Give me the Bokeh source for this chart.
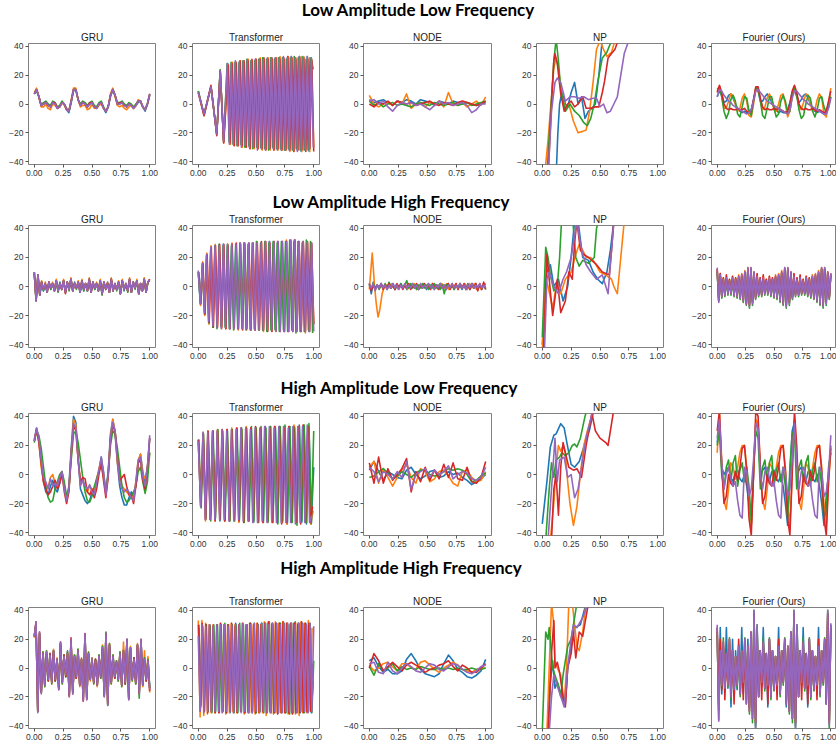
import numpy as np
from bokeh.plotting import figure
from bokeh.models import Range1d, FixedTicker, Div
from bokeh.layouts import column, row
from bokeh.embed import file_html
from bokeh.resources import INLINE

COLORS = ["#1f77b4", "#ff7f0e", "#2ca02c", "#d62728", "#9467bd"]
ROW_TITLES = ["Low Amplitude Low Frequency", "Low Amplitude High Frequency",
              "High Amplitude Low Frequency", "High Amplitude High Frequency"]
MODELS = ["GRU", "Transformer", "NODE", "NP", "Fourier (Ours)"]
X_TICKS = [0, 0.25, 0.5, 0.75, 1]
X_TICK_LABELS = ["0.00", "0.25", "0.50", "0.75", "1.00"]
Y_TICKS = [-40, -20, 0, 20, 40]
Y_TICK_LABELS = ["\u221240", "\u221220", "0", "20", "40"]

# ---------------- Row 1 : Low Amplitude Low Frequency ----------------
GRU_LALF = [
    [7,9,5,-1,0,1,-1,-2,0,0,-3,-2,1,0,-4,-6,1,9,10,3,-1,1,0,-2,0,0,-2,-3,0,1,-3,-6,-2,5,10,6,0,0,1,-1,-2,0,-1,-3,-1,1,2,-2,-5,0,6],
    [8,11,5,-2,-2,0,-3,-4,0,-1,-3,-2,1,-1,-4,-5,3,11,11,3,-2,-1,-1,-4,-3,0,-3,-3,-1,0,-3,-5,-2,7,11,5,-1,-2,-1,-3,-4,-2,-1,-3,-1,3,2,-2,-4,0,6],
    [7,10,5,-1,1,2,0,-1,2,1,-2,-1,2,0,-3,-5,2,10,10,3,0,2,1,-1,1,2,-1,-2,1,2,-2,-5,-2,6,10,6,1,1,2,0,-1,1,0,-2,0,2,2,-2,-4,0,7],
    [7,10,5,-1,0,1,-1,-2,1,1,-3,-2,1,0,-4,-5,2,10,10,3,-1,1,0,-2,1,1,-2,-3,0,1,-3,-5,-2,6,10,6,0,1,1,-1,-2,0,-1,-3,-1,2,2,-2,-4,0,7],
    [7,10,5,-1,0,1,-1,-2,1,0,-3,-2,1,0,-4,-5,2,10,10,3,-1,1,0,-2,0,1,-2,-3,0,1,-3,-5,-2,6,10,6,0,0,1,-1,-2,0,-1,-3,-1,2,2,-2,-4,0,7],
]
TR_LALF_HEAD_X = [0.0, 0.05, 0.11, 0.16, 0.19, 0.22]
TR_LALF_HEAD = [[9,-8,12,-21,23,-26],[8,-8,12,-20,22,-27],[9,-7,12,-21,24,-26],[8,-8,13,-22,23,-27],[8,-7,12,-21,23,-26]]
TR_LALF_TAIL = [
    [28,-27,28,-28,29,-28,29,-29,30,-29,30,-30,30,-30,31,-30,31,-31,31,-31,31,-31,32,-31,32,-31,32,-32,32,-32,32,-32,33,-32,32,-32,33,-33,32,-32,33,-33,32,24],
    [27,-28,29,-29,28,-29,30,-30,29,-30,31,-31,30,-31,31,-31,32,-32,31,-31,32,-32,31,-32,32,-32,33,-32,31,-32,33,-33,32,-33,32,-32,33,-33,33,-32,32,-33,31,-30],
    [28,-26,29,-28,29,-29,29,-28,30,-30,31,-29,30,-31,30,-30,31,-30,32,-31,31,-32,32,-30,31,-31,32,-31,32,-32,31,-31,32,-32,33,-31,32,-32,33,-32,31,-32,32,2],
    [27,-27,28,-29,29,-29,30,-29,30,-30,30,-31,31,-30,31,-31,31,-31,32,-32,31,-31,32,-32,32,-31,31,-32,32,-32,33,-32,32,-33,31,-32,32,-32,32,-33,31,-31,30,-33],
    [28,-28,28,-28,30,-29,29,-30,30,-29,31,-30,30,-30,31,-32,31,-31,31,-32,32,-31,32,-31,32,-32,32,-32,33,-32,32,-32,33,-32,32,-33,33,-32,32,-32,33,-31,32,-30],
]
TR_LALF_SPAN = [(0.255, 0.995), (0.262, 1.0), (0.25, 0.985), (0.258, 1.0), (0.252, 0.997)]
NODE_LALF = [
    [3,1,2,3,1,-1,2,1,3,2,0,3,2,1,-1,2,1,0,2,1,0,1,0,-1,0,1],
    [6,0,-2,0,1,-1,2,0,7,-3,0,1,-2,1,0,2,-2,8,0,-1,1,-2,0,2,-1,5],
    [2,-1,1,-2,0,1,-1,0,-1,-2,0,1,0,-1,1,0,-1,0,1,-1,0,1,-1,0,1,2],
    [0,-2,1,0,2,-1,2,1,0,1,-1,0,1,2,0,-1,1,0,-1,1,2,1,0,-1,0,2],
    [2,3,0,2,-2,-5,-1,1,0,1,-1,0,-2,-4,-1,2,0,1,-1,0,1,-1,-6,-4,0,0],
]
NP_LALF_X = [
    [0.12,0.135,0.15,0.17,0.2,0.22,0.25,0.28,0.31,0.34,0.37,0.4,0.43,0.46,0.49,0.52],
    [0.02,0.05,0.08,0.1,0.12,0.14,0.17,0.2,0.23,0.27,0.31,0.35,0.38,0.41,0.44,0.47,0.5,0.53,0.56,0.6,0.63],
    [0.04,0.07,0.1,0.12,0.14,0.16,0.2,0.24,0.28,0.32,0.36,0.39,0.42,0.45,0.48,0.52,0.56,0.6],
    [0.05,0.08,0.1,0.11,0.13,0.16,0.19,0.22,0.25,0.28,0.31,0.35,0.38,0.42,0.46,0.49,0.52,0.54,0.57,0.6,0.63,0.66],
    [0.05,0.08,0.11,0.13,0.16,0.2,0.24,0.28,0.32,0.36,0.4,0.44,0.47,0.5,0.53,0.56,0.59,0.62,0.65,0.68,0.71,0.74,0.76],
]
NP_LALF_Y = [
    [-50,-20,0,8,0,-2,8,15,0,5,-10,-5,-3,0,20,45],
    [-50,-25,5,25,32,25,5,-2,0,-12,-20,-19,-18,-5,15,38,44,38,33,36,44],
    [-50,-10,30,45,30,10,-5,0,-5,-8,-13,-15,-10,0,15,32,36,44],
    [-50,0,30,35,28,7,-5,0,2,-2,0,5,-3,-3,-2,-2,8,16,32,35,38,45],
    [-50,-5,15,18,15,2,5,5,4,5,3,4,4,-2,0,-6,-5,0,5,20,35,42,45],
]
FOU_LALF = [
    [5,9,6,1,2,6,7,4,0,-3,-5,-6,-5,-6,-5,-4,3,10,9,2,2,5,7,5,1,-2,-4,-6,-5,-6,-6,-4,1,8,10,5,1,3,6,7,4,0,-3,-5,-6,-5,-6,-7,-5,0,5],
    [9,12,6,-3,-3,2,7,6,0,-5,-3,4,7,2,-8,-9,0,11,11,3,-4,-2,4,7,3,-4,-5,0,6,7,0,-9,-5,6,12,7,-2,-4,1,7,6,0,-5,-4,3,7,4,-7,-9,1,11],
    [10,12,5,-5,-10,-6,3,6,2,-7,-9,-2,5,4,-5,-8,2,11,11,2,-8,-10,-3,5,5,-3,-9,-7,2,6,2,-6,-5,6,12,6,-4,-10,-8,0,6,4,-5,-9,-4,4,5,-2,-6,-2,5],
    [8,13,8,0,-3,-4,-3,-4,-4,-3,-4,-4,-3,-5,-6,-5,3,12,12,4,-2,-4,-3,-4,-4,-3,-4,-3,-4,-5,-6,-5,0,9,13,8,0,-3,-4,-3,-4,-4,-3,-4,-5,-4,-5,-6,-5,2,9],
    [5,10,9,6,4,2,1,-1,-2,-3,-4,-5,-6,-7,-6,-4,2,9,10,8,6,4,2,1,0,-1,-2,-3,-4,-5,-6,-7,-4,4,9,9,7,5,3,2,0,-1,-2,-3,-4,-5,-6,-7,-7,-3,4],
]

# ---------------- Row 2 : Low Amplitude High Frequency ----------------
GRU_LAHF = [
    [9,-9,7,-5,3,-3,2,-4,3,-2,2,-3,4,-3,3,-2,4,-4,3,-2,5,-3,3,-1,3,-4,4,-3,2,-3,5,-4,3,-2,2,-3,4,-5,3,-2,3,-4,5,-3,2,-2,3,-5,4,-3,2,-3,5,-4,3,-1,4,-5,2,-3,5,-4,3,4],
    [10,-9,8,-6,4,-2,3,-4,3,-1,3,-3,5,-3,2,-2,5,-4,3,-2,6,-3,2,-1,4,-4,5,-2,2,-3,6,-4,3,-1,3,-3,5,-5,3,-2,3,-4,6,-3,2,-2,4,-5,5,-2,2,-3,6,-4,3,-1,5,-5,2,-3,6,-4,3,5],
    [9,-10,8,-6,3,-3,2,-4,3,-2,2,-3,4,-4,2,-2,4,-4,3,-3,5,-3,2,-2,3,-4,4,-3,2,-3,5,-4,3,-2,2,-3,4,-6,3,-2,2,-4,5,-3,2,-3,3,-5,4,-2,2,-4,5,-4,3,-2,4,-5,2,-3,5,-4,3,4],
    [10,-10,8,-6,3,-2,2,-4,3,-1,2,-3,4,-3,2,-2,4,-5,3,-2,5,-3,2,-1,3,-4,4,-2,2,-3,5,-4,3,-1,2,-3,4,-5,3,-2,2,-4,5,-3,2,-2,3,-5,4,-2,2,-3,5,-4,3,-1,4,-5,2,-3,5,-4,3,5],
    [10,-10,8,-6,3,-2,2,-4,3,-1,2,-3,4,-3,2,-2,4,-4,3,-2,5,-3,2,-1,3,-4,4,-2,2,-3,5,-4,3,-1,2,-3,4,-5,3,-2,2,-4,5,-3,2,-2,3,-5,4,-2,2,-3,5,-4,3,-1,4,-5,2,-3,5,-4,3,5],
]
TR_LAHF = [
    [10,-12,16,-18,22,-24,27,-27,28,-28,28,-28,29,-28,28,-29,29,-29,29,-28,29,-29,30,-29,29,-29,30,-30,30,-29,30,-30,30,-30,31,-30,30,-30,31,-30,31,-31,31,-30,31,-30,32,-31,31,-31,31,-30,31,-31,30,-30],
    [9,-13,17,-20,23,-26,28,-28,29,-27,28,-29,28,-29,29,-28,30,-29,29,-30,30,-29,29,-30,30,-30,29,-30,31,-30,30,-31,31,-30,30,-31,31,-31,30,-30,31,-31,32,-31,31,-31,32,-31,30,-31,31,-32,31,-30,29,-26],
    [10,-11,15,-19,21,-25,26,-28,28,-29,29,-27,28,-28,29,-29,28,-30,29,-29,30,-28,30,-30,29,-30,30,-29,31,-30,30,-30,31,-31,30,-30,31,-30,30,-31,31,-30,31,-31,32,-30,31,-32,31,-31,30,-31,32,-30,31,-32],
    [10,-12,16,-19,22,-25,27,-28,28,-28,29,-28,29,-29,28,-29,29,-28,30,-29,29,-30,30,-29,30,-30,30,-30,30,-30,31,-30,31,-31,30,-31,31,-30,31,-31,31,-31,31,-31,32,-31,32,-30,31,-31,31,-31,30,-31,30,-26],
    [11,-12,16,-18,22,-24,27,-27,28,-28,28,-29,29,-28,29,-29,29,-29,29,-29,30,-29,30,-29,30,-30,30,-30,30,-30,30,-30,31,-30,31,-30,31,-31,31,-31,31,-31,31,-31,32,-31,32,-31,31,-31,31,-31,31,-31,30,-31],
]
TR_LAHF_SPAN = [(0.0, 0.995), (0.002, 1.0), (0.0, 0.99), (0.004, 1.0), (0.0, 1.0)]
NODE_LAHF_B = [2,-5,3,-2,1,-1,2,-1,1,-2,1,-1,2,-2,1,0,2,-1,1,-2,1,-1,2,-1,1,-2,1,-1,1,-2,2,-1,1,-2,1,-1,2,-1,1,-2,1,-1,2,-2,1,-1,1,-2,1,-1,2,-2,1,-1,2,-1,1,-2,1,2]
NODE_LAHF_O_HEAD_X = [0.0, 0.012, 0.025, 0.035, 0.045, 0.06, 0.075, 0.09, 0.11, 0.13]
NODE_LAHF_O_HEAD_Y = [-2, 10, 23, 12, 0, -12, -21, -16, -5, 0]
NODE_LAHF_O_TAIL = [1,-1,2,-1,1,-2,1,-1,2,-2,1,-1,2,-2,1,-1,2,-1,1,-2,2,-1,1,-2,2,-1,2,-2,1,-1,2,-2,1,-1,2,-2,2,-1,2,-2,1,-2,2,-1]
NODE_LAHF_G = [1,-2,2,-1,1,-2,1,-1,2,-1,3,-1,1,-2,1,-1,2,-1,1,4,-1,2,-1,1,-2,1,-1,2,-1,1,-2,1,-1,2,-1,1,-2,1,-5,1,2,-1,1,-2,1,-1,2,-1,1,-2,1,-1,2,-1,1,-2,1,-1,1,-2]
NODE_LAHF_R = [2,-3,1,-2,1,-1,2,-2,1,-1,2,-1,1,-2,2,-1,1,-2,1,-1,2,-2,1,-1,2,-2,1,-1,2,-1,1,-2,2,-1,1,-2,2,-1,1,-2,2,-2,1,-1,2,-2,2,-1,2,-2,1,-2,2,-1,2,-3,2,-2,3,-2]
NODE_LAHF_P = [1,-1,2,-3,1,-1,2,-1,1,-2,1,-1,2,-1,1,-2,1,-1,2,-1,1,-1,2,-1,1,-2,2,-1,1,-1,2,-1,1,-2,1,-1,2,-1,1,-2,1,-1,2,-1,1,-1,2,-1,1,-2,1,-1,2,-1,1,-1,2,-1,1,-1]
NP_LAHF_X = [
    [0.0,0.04,0.07,0.1,0.14,0.18,0.22,0.25,0.28,0.31,0.35,0.4,0.44,0.48,0.52,0.56,0.59,0.62],
    [0.0,0.03,0.05,0.09,0.12,0.16,0.2,0.25,0.29,0.32,0.35,0.38,0.42,0.45,0.5,0.55,0.6,0.62,0.65,0.68,0.71],
    [0.0,0.03,0.05,0.07,0.1,0.13,0.15,0.17,0.26,0.29,0.32,0.35,0.4,0.45,0.47,0.5],
    [0.01,0.04,0.06,0.09,0.11,0.13,0.16,0.2,0.23,0.26,0.28,0.3,0.33,0.36,0.4,0.47,0.52,0.58,0.6,0.62],
    [0.02,0.04,0.06,0.1,0.14,0.18,0.21,0.25,0.28,0.3,0.33,0.35,0.38,0.42,0.47,0.52,0.57,0.6,0.62],
]
NP_LAHF_Y = [
    [-40,10,15,0,5,-10,0,20,45,45,20,18,10,5,2,10,25,45],
    [-45,5,0,-15,0,-5,5,10,22,29,25,20,20,17,10,8,5,0,-5,20,45],
    [-35,27,20,8,-3,0,20,50,50,20,14,18,16,20,40,50],
    [-45,22,5,-20,-8,5,-18,-10,10,5,30,45,25,22,20,15,10,8,25,45],
    [-42,5,10,0,-5,5,10,20,35,45,30,22,15,10,5,8,-5,25,45],
]
FOU_LAHF = [
    [10,-8,7,-6,5,-5,5,-4,4,-4,5,-5,5,-6,6,-7,7,-9,9,-11,12,-12,12,-10,9,-7,6,-5,5,-5,5,-4,4,-4,5,-5,5,-6,6,-7,7,-9,9,-11,12,-12,12,-10,9,-7,6,-5,5,-5,5,-4,4,-4,5,-5,5,-6,6,-7,7,-9,9,-11,12,-12,12,-10,9,-7,8],
    [12,-9,9,-6,6,-5,7,-4,5,-4,7,-5,6,-6,8,-7,9,-9,11,-11,13,-13,13,-11,10,-7,8,-5,6,-5,7,-4,5,-4,7,-5,6,-6,8,-7,9,-9,11,-11,13,-13,13,-11,10,-7,8,-5,6,-5,7,-4,5,-4,7,-5,6,-6,8,-7,9,-9,11,-11,13,-13,13,-11,10,-7,9],
    [11,-10,7,-8,5,-7,5,-6,4,-6,5,-7,5,-8,6,-9,7,-11,9,-13,12,-15,12,-13,9,-9,6,-7,5,-7,5,-6,4,-6,5,-7,5,-8,6,-9,7,-11,9,-13,12,-15,12,-13,9,-9,6,-7,5,-7,5,-6,4,-6,5,-7,5,-8,6,-9,7,-11,9,-13,12,-15,12,-13,9,-9,8],
    [12,-10,9,-7,6,-6,8,-5,5,-5,7,-6,6,-7,7,-8,8,-10,10,-12,12,-13,12,-11,10,-8,9,-6,6,-6,8,-5,5,-5,7,-6,6,-7,7,-8,8,-10,10,-12,12,-13,12,-11,10,-8,9,-6,6,-6,8,-5,5,-5,7,-6,6,-7,7,-8,8,-10,10,-12,12,-13,12,-11,10,-8,9],
    [13,-11,8,-7,5,-6,6,-5,4,-5,6,-6,5,-7,7,-8,8,-10,10,-12,13,-14,13,-12,10,-8,7,-6,5,-6,6,-5,4,-5,6,-6,5,-7,7,-8,8,-10,10,-12,13,-14,13,-12,10,-8,7,-6,5,-6,6,-5,4,-5,6,-6,5,-7,7,-8,8,-10,10,-12,13,-14,13,-12,10,-8,9],
]

# ---------------- Row 3 : High Amplitude Low Frequency ----------------
GRU_HALF = [
    [24,32,24,8,-5,-12,-14,-8,-4,-10,-12,-6,0,-8,-16,-8,18,40,36,12,-10,-14,-18,-20,-18,-12,-10,-4,2,12,2,-12,2,28,38,28,8,-8,-16,-21,-21,-16,-12,-14,-8,8,14,2,-6,5,25],
    [23,31,22,5,-5,-7,-9,-2,0,-6,-9,-3,2,-8,-17,-10,15,38,34,10,-5,-4,-10,-12,-8,-10,-12,-3,4,10,0,-12,0,26,38,30,8,-2,-8,-10,-12,-14,-14,-15,-5,10,14,0,-3,5,15],
    [22,30,27,18,5,-8,-16,-19,-18,-10,-5,0,2,-5,-15,-10,10,28,30,22,10,-2,-12,-18,-19,-15,-8,-3,2,8,-2,-12,0,20,30,28,18,5,-8,-16,-19,-18,-15,-12,-8,2,5,-5,-13,-5,15],
    [23,31,22,8,-5,-10,-14,-12,-8,-4,-10,-6,1,-12,-20,-12,14,34,30,10,-5,-2,-3,-12,-14,-10,-16,-10,0,8,-4,-16,-2,24,34,30,12,-4,-2,0,-8,-14,-14,-20,-8,8,10,-4,-10,4,25],
    [23,32,25,10,-2,-5,-10,-3,-8,-6,-8,-2,2,-10,-18,-10,15,35,32,10,-8,-4,-8,-10,-7,-12,-14,-5,3,12,0,-14,0,25,36,30,10,-5,-10,-12,-10,-12,-16,-18,-5,10,12,-2,-8,5,27],
]
TR_HALF = [
    [24,-22,28,-31,29,-31,30,-31,30,-32,30,-31,31,-32,31,-31,31,-32,32,-32,31,-32,32,-33,32,-32,32,-33,32,-33,33,-32,33,-33,32,-33,33,-34,33,-32,33,-33,34,-33,33,-34,33,-33,5],
    [23,-21,29,-32,30,-31,29,-32,31,-31,30,-32,31,-31,32,-32,31,-33,32,-32,33,-32,32,-33,31,-33,32,-32,33,-33,32,-33,33,-32,33,-33,32,-34,33,-33,34,-32,33,-33,34,-33,32,-34,-25],
    [24,-23,28,-30,29,-32,30,-30,31,-31,30,-32,30,-32,31,-32,32,-31,31,-33,32,-32,33,-32,32,-33,33,-33,32,-32,33,-33,32,-34,33,-32,34,-33,33,-33,32,-35,33,-32,34,-33,35,-34,30],
    [24,-22,28,-31,30,-31,30,-32,30,-31,31,-32,31,-32,31,-31,32,-32,32,-33,32,-32,32,-32,33,-33,32,-33,33,-32,32,-33,33,-33,33,-34,32,-33,33,-33,33,-33,33,-34,34,-33,33,-33,-22],
    [23,-22,29,-31,29,-31,30,-31,30,-31,31,-31,30,-32,31,-32,31,-31,32,-32,32,-32,31,-33,32,-33,32,-32,33,-33,33,-32,32,-33,33,-33,33,-33,32,-33,33,-34,33,-33,33,-33,34,-33,-28],
]
TR_HALF_SPAN = [(0.0, 1.0), (0.0, 0.995), (0.004, 1.0), (0.002, 0.99), (0.0, 0.985)]
NODE_HALF = [
    [3,9,2,-4,2,0,-2,-3,3,5,0,-3,-1,2,3,-2,-1,2,0,1,-2,-4,-7,-5,-3,0],
    [5,9,-6,4,-2,-8,-2,3,7,-2,-6,4,2,-5,-3,2,3,-1,-6,-8,2,3,-2,-5,-4,2],
    [-2,-1,2,4,1,-3,-1,2,0,-2,1,3,3,0,-1,0,2,4,3,4,3,0,-5,-4,-1,1],
    [8,-6,12,-6,4,-4,0,4,11,-12,2,-5,5,-4,3,-3,7,-2,8,-3,-4,5,-5,-6,-2,9],
    [5,2,-5,2,0,-3,2,-2,9,-10,0,2,4,-2,3,0,2,6,-3,0,2,1,-3,-4,-2,5],
]
NP_HALF_X = [
    [0.0,0.04,0.07,0.1,0.12,0.16,0.19,0.22,0.25,0.28,0.32,0.36,0.41,0.44,0.46],
    [0.07,0.1,0.12,0.14,0.16,0.18,0.2,0.22,0.24,0.27,0.3,0.33,0.36,0.39,0.42,0.45],
    [0.03,0.06,0.08,0.1,0.12,0.15,0.17,0.2,0.23,0.26,0.28,0.3,0.33,0.37,0.4],
    [0.08,0.1,0.12,0.14,0.16,0.18,0.2,0.23,0.27,0.3,0.34,0.38,0.41,0.43,0.46,0.5,0.55,0.57,0.59,0.62],
    [0.05,0.08,0.11,0.13,0.15,0.19,0.22,0.25,0.28,0.31,0.34,0.38,0.41,0.43,0.45],
]
NP_HALF_Y = [
    [-34,-5,19,27,28,35,32,19,7,5,9,19,31,42,48],
    [-45,-20,5,20,16,20,15,-5,-20,-35,-22,0,20,30,38,48],
    [-45,-10,8,-2,10,12,15,13,15,20,21,19,25,40,48],
    [-45,-10,0,-28,5,22,15,5,3,4,-2,20,33,42,30,25,22,20,30,45],
    [-45,-10,25,-5,10,12,-2,0,-16,-10,5,25,35,42,48],
]
FOU_HALF = [
    [22,35,5,0,3,5,-2,-5,2,3,-3,-5,0,-8,-20,-35,0,36,32,0,3,5,-2,-5,2,3,-3,-5,0,-8,-20,-35,0,30,36,5,3,5,-2,-5,2,3,-3,-5,0,-8,-20,-35,-15,0,18],
    [15,42,10,-18,-24,-10,8,5,-3,5,15,20,20,5,-20,-35,0,38,35,5,-18,-24,-10,8,5,-3,5,15,20,20,5,-20,-35,0,38,10,-18,-24,-10,8,5,-3,5,15,20,20,5,-20,-35,-5,15],
    [20,30,0,-10,5,10,-5,8,13,-8,3,8,-5,5,-8,-32,5,30,25,-10,5,10,-5,8,13,-8,3,8,-5,5,-8,-30,5,28,30,-10,5,10,-5,8,13,-8,3,8,-5,5,-8,-30,-25,5,15],
    [30,44,5,-20,-15,0,-6,-8,2,-4,5,18,20,2,-30,-42,0,44,40,5,-20,-15,0,-6,-8,2,-4,5,18,20,2,-30,-42,0,44,20,-20,-15,0,-6,-8,2,-4,5,18,20,2,-30,-42,-5,20],
    [25,38,8,-10,0,5,-3,-8,-5,-18,-28,-30,5,2,-15,-10,10,35,32,0,-10,2,5,-3,-8,-5,-18,-28,-30,5,2,-15,-10,10,35,8,-10,2,5,-3,-8,-5,-18,-28,-30,5,2,-15,-12,0,27],
]

# ---------------- Row 4 : High Amplitude High Frequency ----------------
GRU_HAHF = [
    [22,31,-30,24,-17,11,-12,10,-8,10,-10,12,-9,6,-14,17,-10,9,-6,12,-19,19,-17,9,-7,13,-11,6,-22,23,-21,10,-8,7,-10,6,-12,9,-7,15,-19,23,-25,16,-10,9,-7,5,-9,11,-12,13,-11,19,-21,14,-8,7,-11,16,-17,19,-12,7,-9,6,-14],
    [21,31,-30,24,-17,11,-13,12,-9,10,-11,13,-9,7,-14,17,-11,9,-6,11,-19,19,-17,9,-7,13,-13,7,-22,23,-21,11,-9,7,-11,6,-13,9,-7,16,-19,23,-25,17,-11,9,-7,5,-9,11,-13,18,-11,19,-21,15,-9,7,-11,17,-17,19,-13,12,-9,8,-17],
    [22,31,-30,24,-17,11,-13,12,-9,10,-11,12,-9,6,-14,17,-11,9,-6,11,-19,19,-17,9,-7,13,-12,6,-22,23,-21,11,-8,6,-11,6,-12,9,-7,15,-19,25,-26,17,-11,9,-7,5,-9,11,-13,12,-11,20,-21,14,-9,7,-11,16,-21,19,-12,7,-9,6,-14],
    [22,32,-30,25,-17,10,-12,11,-9,10,-10,12,-9,6,-15,18,-10,9,-6,10,-20,21,-18,8,-7,12,-12,6,-23,24,-22,10,-8,6,-10,6,-12,8,-6,14,-20,24,-25,16,-10,8,-7,4,-8,10,-12,12,-11,20,-22,14,-8,7,-10,16,-18,20,-12,6,-9,5,-16],
    [22,32,-31,25,-18,10,-12,11,-8,9,-10,12,-8,6,-15,18,-10,8,-5,10,-20,20,-18,8,-6,12,-12,6,-23,24,-22,10,-8,6,-10,5,-12,8,-6,14,-20,24,-26,16,-10,8,-6,4,-8,10,-12,12,-10,20,-22,14,-8,6,-10,16,-18,20,-12,6,-8,5,-15],
]
TR_HAHF = [
    [30,-26,30,-30,30,-29,30,-30,29,-31,30,-30,30,-30,30,-31,29,-31,30,-30,31,-30,30,-30,30,-31,30,-30,31,-31,30,-31,30,-30,31,-31,30,-31,31,-30,31,-31,30,-31,31,-31,30,-31,31,-30,31,-31,31,-30,31,-31,30,-30,31,-30,30,-31,-9],
    [33,-34,33,-33,31,-32,30,-31,30,-31,30,-30,31,-31,30,-32,30,-31,31,-30,30,-31,29,-30,31,-32,30,-30,31,-31,30,-32,31,-31,30,-31,32,-33,31,-30,30,-32,32,-31,31,-31,32,-31,31,-32,30,-31,31,-32,31,-33,32,-31,31,-30,33,-30,28],
    [28,-27,29,-30,30,-30,29,-31,30,-30,30,-31,30,-30,31,-31,30,-30,30,-31,30,-31,31,-30,30,-31,30,-31,31,-30,31,-31,30,-30,31,-31,31,-30,32,-31,30,-31,31,-31,31,-30,31,-31,30,-32,31,-31,32,-31,31,-30,31,-31,30,-30,31,-31,5],
    [30,-30,31,-30,30,-31,30,-30,29,-31,30,-31,31,-30,30,-31,30,-30,31,-31,29,-31,30,-30,31,-31,30,-31,31,-30,30,-31,31,-31,30,-30,31,-31,32,-31,31,-31,31,-32,31,-31,32,-31,31,-31,31,-32,31,-31,30,-31,32,-31,31,-31,31,-30,3],
    [22,-30,30,-31,29,-30,30,-30,29,-30,30,-30,30,-31,30,-30,29,-30,30,-31,30,-30,30,-31,31,-30,30,-31,30,-31,31,-30,30,-31,31,-30,31,-31,30,-31,31,-30,31,-31,30,-31,31,-30,31,-30,31,-31,30,-31,31,-30,31,-30,30,-31,31,-30,29],
]
TR_HAHF_SPAN = [(0.004, 0.995), (0.0, 0.985), (0.006, 1.0), (0.002, 0.99), (0.0, 1.0)]
NODE_HAHF = [
    [5,7,1,-3,-1,-4,-4,-2,6,10,5,-1,-4,-5,-6,-4,3,9,5,-1,-3,-6,-7,-5,-2,6],
    [2,-2,0,3,4,1,-2,3,3,0,-1,4,5,2,-1,-3,0,2,4,2,-1,-2,-3,-1,0,0],
    [1,-5,3,-2,0,3,-2,1,-1,0,-1,1,0,-1,-1,0,-1,0,-1,0,-1,-1,0,-1,-1,0],
    [0,10,5,-2,1,4,1,-2,2,4,2,0,-3,-1,0,2,3,5,1,-2,2,0,-3,-3,0,3],
    [3,4,-3,-4,4,-2,-4,0,3,1,-2,-3,0,3,2,-1,-2,1,3,2,-1,-3,-4,-2,1,2],
]
NP_HAHF_X = [
    [0.05,0.07,0.09,0.11,0.13,0.17,0.2,0.22,0.25,0.28,0.33,0.38],
    [0.04,0.06,0.08,0.1,0.11,0.13,0.16,0.19,0.21,0.23,0.26,0.28,0.3,0.32,0.35,0.38],
    [0.0,0.03,0.05,0.06,0.09,0.11,0.14,0.16,0.18,0.22,0.25,0.28,0.3],
    [0.05,0.08,0.1,0.11,0.13,0.15,0.18,0.2,0.22,0.25,0.27,0.29,0.32,0.35,0.4],
    [0.06,0.08,0.1,0.14,0.17,0.19,0.22,0.25,0.27,0.3,0.35,0.4],
]
NP_HAHF_Y = [
    [-45,-10,5,-14,-10,-20,-25,0,15,28,30,45],
    [-45,0,45,30,5,0,-5,-25,0,45,45,30,15,12,25,45],
    [-45,25,20,28,0,-5,-12,-20,-5,15,20,35,45],
    [-45,10,33,0,4,-3,-20,-27,0,10,25,7,25,22,45],
    [-45,-20,-5,-15,-22,-27,0,20,30,28,35,45],
]
FOU_HAHF = [
    [28,-36,28,-18,14,-12,28,-14,10,-27,20,-18,12,-15,8,-12,28,-18,12,-10,20,-27,15,-30,38,-40,28,-18,12,-12,28,-14,10,-27,20,-20,12,-15,8,-12,28,-18,12,-10,20,-27,15,-30,25,-35,38,-40,28,-18,12,-10,28,-14,10,-27,20,-20,12,-15,8,-12,28,-18,12,-10,20,-25,38,-36,30],
    [25,-30,10,-12,15,-14,10,-12,18,-18,12,-15,8,-12,15,-18,12,-10,18,-22,15,-28,22,-32,36,-38,25,-20,12,-10,15,-14,10,-12,18,-18,12,-15,8,-12,15,-18,12,-10,18,-22,15,-28,22,-32,36,-38,25,-20,12,-10,15,-14,10,-12,18,-18,12,-15,8,-12,15,-18,12,-10,18,-22,36,-36,26],
    [25,-30,12,-14,21,-16,10,-13,21,-22,12,-16,8,-14,16,-20,12,-12,21,-24,15,-32,25,-38,40,-43,30,-20,12,-12,21,-16,10,-13,21,-22,12,-16,8,-14,16,-20,12,-12,21,-24,15,-32,25,-38,40,-43,30,-20,12,-12,21,-16,10,-13,21,-22,12,-16,8,-14,16,-20,12,-12,21,-24,40,-42,30],
    [28,-25,20,-15,18,-22,10,-12,20,-20,12,-25,8,-12,20,-18,12,-22,20,-25,15,-30,25,-35,38,-38,20,-20,12,-22,18,-14,10,-25,20,-20,12,-15,8,-22,20,-18,12,-10,20,-25,15,-30,25,-35,38,-38,20,-20,12,-22,18,-14,10,-25,20,-20,12,-15,8,-22,20,-18,12,-10,20,-25,38,-38,28],
    [30,-37,12,-12,18,-14,10,-12,20,-20,12,-15,8,-12,15,-18,12,-10,20,-25,15,-30,25,-35,40,-42,30,-20,12,-10,18,-14,10,-12,20,-20,12,-15,8,-12,15,-18,12,-10,20,-25,15,-30,25,-35,40,-42,30,-20,12,-10,18,-14,10,-12,20,-20,12,-15,8,-12,15,-18,12,-10,20,-25,40,-40,31],
]


def even(y, x0=0.0, x1=1.0):
    return list(np.linspace(x0, x1, len(y))), list(y)


def trans_head(head_x, head_y, tail_y, span):
    x = list(head_x) + list(np.linspace(span[0], span[1], len(tail_y)))
    return x, list(head_y) + list(tail_y)


PANELS = [
    [
        [even(y) for y in GRU_LALF],
        [trans_head(TR_LALF_HEAD_X, h, t, s) for h, t, s in zip(TR_LALF_HEAD, TR_LALF_TAIL, TR_LALF_SPAN)],
        [even(y) for y in NODE_LALF],
        [(x, y) for x, y in zip(NP_LALF_X, NP_LALF_Y)],
        [even(y) for y in FOU_LALF],
    ],
    [
        [even(y) for y in GRU_LAHF],
        [even(y, s[0], s[1]) for y, s in zip(TR_LAHF, TR_LAHF_SPAN)],
        [even(NODE_LAHF_B),
         trans_head(NODE_LAHF_O_HEAD_X, NODE_LAHF_O_HEAD_Y, NODE_LAHF_O_TAIL, (0.15, 1.0)),
         even(NODE_LAHF_G), even(NODE_LAHF_R), even(NODE_LAHF_P)],
        [(x, y) for x, y in zip(NP_LAHF_X, NP_LAHF_Y)],
        [even(y) for y in FOU_LAHF],
    ],
    [
        [even(y) for y in GRU_HALF],
        [even(y, s[0], s[1]) for y, s in zip(TR_HALF, TR_HALF_SPAN)],
        [even(y) for y in NODE_HALF],
        [(x, y) for x, y in zip(NP_HALF_X, NP_HALF_Y)],
        [even(y) for y in FOU_HALF],
    ],
    [
        [even(y) for y in GRU_HAHF],
        [even(y, s[0], s[1]) for y, s in zip(TR_HAHF, TR_HAHF_SPAN)],
        [even(y) for y in NODE_HAHF],
        [(x, y) for x, y in zip(NP_HAHF_X, NP_HAHF_Y)],
        [even(y) for y in FOU_HAHF],
    ],
]

# layout geometry (left border, frame width, right border) per column
GEOM_COLS = [(28, 127, 15), (22, 127, 21), (23, 128, 21), (24, 127, 23), (25, 125, 0)]
# (top border, frame height, bottom border) per row
GEOM_ROWS = [(23, 121, 30), (15, 122, 33), (17, 122, 25), (31, 122, 13)]
DIV_H = [20, 16, 16, 16]
DIV_W = [836, 782, 798, 802]

TICK_FONT = "Liberation Sans"


def make_panel(title, series, c, r):
    lb, fw, rb = GEOM_COLS[c]
    tb, fh, bb = GEOM_ROWS[r]
    p = figure(width=lb + fw + rb, height=tb + fh + bb,
               x_range=Range1d(-0.05, 1.05), y_range=Range1d(-42, 42),
               output_backend="svg", toolbar_location=None,
               min_border_left=lb, min_border_right=rb,
               min_border_top=tb, min_border_bottom=bb, title=title)
    p.title.align = "center"
    p.title.text_font = TICK_FONT
    p.title.text_font_size = "10px"
    p.title.text_font_style = "normal"
    p.title.text_color = "#222222"
    p.title.standoff = 2
    p.grid.grid_line_color = None
    p.outline_line_color = "#808080"
    p.outline_line_width = 1
    p.background_fill_color = "white"
    p.border_fill_color = "white"
    p.xaxis.ticker = FixedTicker(ticks=X_TICKS)
    p.xaxis.major_label_overrides = dict(zip(X_TICKS, X_TICK_LABELS))
    p.yaxis.ticker = FixedTicker(ticks=Y_TICKS)
    p.yaxis.major_label_overrides = dict(zip(Y_TICKS, Y_TICK_LABELS))
    for ax in (p.xaxis[0], p.yaxis[0]):
        ax.axis_line_color = None
        ax.major_tick_line_color = "#555555"
        ax.major_tick_in = 0
        ax.major_tick_out = 3
        ax.minor_tick_line_color = None
        ax.major_label_text_font = TICK_FONT
        ax.major_label_text_font_size = "8.5px"
        ax.major_label_text_color = "#333333"
        ax.major_label_standoff = 2
    for (x, y), col in zip(series, COLORS):
        p.line(x, y, line_color=col, line_width=1.6, line_join="round")
    return p


children = []
for r, rt in enumerate(ROW_TITLES):
    html = ('<div style="width:%dpx;text-align:center;font-family:Lato;'
            'font-weight:bold;font-size:17px;line-height:%dpx;color:#000;white-space:nowrap">%s</div>'
            % (DIV_W[r], DIV_H[r], rt))
    children.append(Div(text=html, width=DIV_W[r], height=DIV_H[r], margin=(0, 0, 0, 0)))
    figs = [make_panel(MODELS[c], PANELS[r][c], c, r) for c in range(5)]
    children.append(row(*figs))

layout = column(*children)
open("out.html", "w").write(file_html(layout, INLINE))
